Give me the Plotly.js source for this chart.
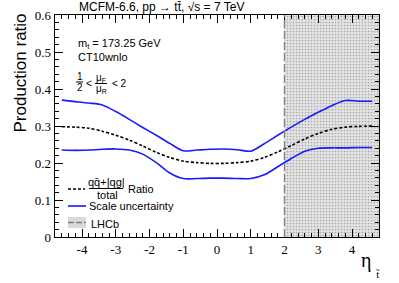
<!DOCTYPE html>
<html>
<head>
<meta charset="utf-8">
<script src="https://cdn.plot.ly/plotly-3.0.1.min.js"></script>
<style>
html,body{margin:0;padding:0;background:#fff;}
#chart{width:399px;height:283px;}
</style>
</head>
<body>
<div id="chart"></div>
<script>
// ---- data ----
const eta = [-4.6, -4.2, -3.8, -3.4, -3.0, -2.6, -2.2, -1.8, -1.4, -1.0, -0.6, -0.2,
             0.2, 0.6, 1.0, 1.4, 1.8, 2.2, 2.6, 3.0, 3.4, 3.8, 4.2, 4.6];
const ratio = [0.298, 0.297, 0.294, 0.286, 0.275, 0.262, 0.246, 0.229, 0.215, 0.205, 0.201, 0.199,
               0.199, 0.201, 0.205, 0.215, 0.230, 0.247, 0.265, 0.280, 0.291, 0.297, 0.299, 0.300];
const scaleUp = [0.370, 0.366, 0.362, 0.357, 0.339, 0.318, 0.296, 0.275, 0.253, 0.233, 0.235, 0.237,
                 0.238, 0.236, 0.232, 0.252, 0.275, 0.297, 0.318, 0.337, 0.355, 0.369, 0.367, 0.367];
const scaleDown = [0.235, 0.234, 0.235, 0.237, 0.238, 0.235, 0.224, 0.201, 0.173, 0.158, 0.158, 0.159,
                   0.159, 0.158, 0.158, 0.168, 0.190, 0.212, 0.232, 0.240, 0.241, 0.241, 0.242, 0.242];
const lhcbEta = [2, 4.8];
const yRange = [0, 0.6];
const xRange = [-4.8, 4.8];
const xTicks = [-4, -3, -2, -1, 0, 1, 2, 3, 4];
const xTickText = ['-4', '-3', '-2', '-1', '0', '1', '2', '3', '4'];
const yTicks = [0, 0.1, 0.2, 0.3, 0.4, 0.5, 0.6];
const yTickText = ['0', '0.1', '0.2', '0.3', '0.4', '0.5', '0.6'];

// ---- pixel -> paper helpers (plot area 55..379 x 15..237) ----
const L = 55, T = 15, W = 324, H = 222;
const px = x => (x - L) / W;
const py = y => (T + H - y) / H;

const sans = "'Liberation Sans', Arial, sans-serif";
const serif = "'Liberation Serif', 'Times New Roman', serif";

const traces = [
  { x: [lhcbEta[0], lhcbEta[1], lhcbEta[1], lhcbEta[0], lhcbEta[0]],
    y: [yRange[0], yRange[0], yRange[1], yRange[1], yRange[0]],
    mode: 'lines', fill: 'toself', line: {width: 0}, fillcolor: '#dedede',
    fillpattern: {shape: '.', fgcolor: '#a8a8a8', bgcolor: '#e4e4e4', size: 3, solidity: 0.25},
    hoverinfo: 'skip', showlegend: false },
  { x: eta, y: scaleUp, mode: 'lines', line: {color: '#1a1aff', width: 1.6, shape: 'spline', smoothing: 0.8}, showlegend: false },
  { x: eta, y: scaleDown, mode: 'lines', line: {color: '#1a1aff', width: 1.6, shape: 'spline', smoothing: 0.8}, showlegend: false },
  { x: eta, y: ratio, mode: 'lines', line: {color: '#000', width: 1.6, dash: '3px,2px', shape: 'spline', smoothing: 0.8}, showlegend: false }
];

const ann = (x, y, text, size, opts) => Object.assign({
  xref: 'paper', yref: 'paper', x: px(x), y: py(y), text: text, showarrow: false,
  xanchor: 'left', yanchor: 'middle', font: {family: sans, size: size, color: '#000'}
}, opts || {});

const annotations = [
  ann(161, 7, 'MCFM-6.6, pp \u2192 tt\u0304, \u221As = 7 TeV', 12, {xanchor: 'center'}),
  ann(20, 73.5, 'Production ratio', 17, {xanchor: 'center', textangle: -90}),
  ann(76, 44, 'm<sub>t</sub> = 173.25 GeV', 11),
  ann(76, 57, 'CT10wnlo', 11),
  ann(79.5, 76.5, '1', 10, {xanchor: 'center'}),
  ann(79.5, 87.5, '2', 10, {xanchor: 'center'}),
  ann(84, 83, '<', 10),
  ann(101, 78, '\u03BC<sub>F</sub>', 10, {xanchor: 'center'}),
  ann(101, 89, '\u03BC<sub>R</sub>', 10, {xanchor: 'center'}),
  ann(110, 83, '< 2', 10),
  ann(106, 182, 'qq\u0304+|qg|', 11, {xanchor: 'center'}),
  ann(107, 195, 'total', 11, {xanchor: 'center'}),
  ann(126, 188.5, 'Ratio', 11),
  ann(87, 206, 'Scale uncertainty', 11),
  ann(89, 223.5, 'LHCb', 11),
  ann(366, 260, '\u03B7', 20, {xanchor: 'center', font: {family: serif, size: 20, color: '#000'}}),
  ann(378, 274, 't\u0303', 11, {xanchor: 'center', font: {family: serif, size: 11, color: '#000'}})
];

const shapes = [
  {type: 'line', xref: 'x', yref: 'paper', x0: lhcbEta[0], x1: lhcbEta[0], y0: 0, y1: 1,
   line: {color: '#808080', width: 1.4, dash: '8px,3px'}},
  {type: 'line', xref: 'paper', yref: 'paper', x0: px(76), x1: px(83), y0: py(82), y1: py(82), line: {color: '#000', width: 1}},
  {type: 'line', xref: 'paper', yref: 'paper', x0: px(95), x1: px(107), y0: py(83.5), y1: py(83.5), line: {color: '#000', width: 1}},
  {type: 'line', xref: 'paper', yref: 'paper', x0: px(89), x1: px(123), y0: py(188.5), y1: py(188.5), line: {color: '#000', width: 1}},
  {type: 'line', xref: 'paper', yref: 'paper', x0: px(68), x1: px(85), y0: py(189), y1: py(189), line: {color: '#000', width: 1.5, dash: '3px,2px'}},
  {type: 'line', xref: 'paper', yref: 'paper', x0: px(68), x1: px(86), y0: py(206), y1: py(206), line: {color: '#1a1aff', width: 1.6}},
  {type: 'rect', xref: 'paper', yref: 'paper', x0: px(68), x1: px(86), y0: py(228), y1: py(217), fillcolor: '#d9d9d9', line: {width: 0}},
  {type: 'line', xref: 'paper', yref: 'paper', x0: px(68), x1: px(86), y0: py(222.5), y1: py(222.5), line: {color: '#808080', width: 1.4, dash: '6px,2px'}}
];

const axisCommon = {
  showgrid: false, zeroline: false, showline: true, linecolor: '#000', linewidth: 1.3,
  mirror: 'ticks', ticks: 'inside', ticklen: 8, tickcolor: '#000', tickwidth: 1,
  tickfont: {family: serif, size: 13, color: '#000'}, fixedrange: true
};

const layout = {
  width: 399, height: 283,
  margin: {l: L, r: 399 - L - W, t: T, b: 283 - T - H, pad: 0},
  paper_bgcolor: '#fff', plot_bgcolor: '#fff',
  showlegend: false,
  xaxis: Object.assign({}, axisCommon, {range: xRange, tickvals: xTicks, ticktext: xTickText,
    minor: {dtick: 0.2, tick0: 0, ticks: 'inside', ticklen: 4, tickcolor: '#000', tickwidth: 1}}),
  yaxis: Object.assign({}, axisCommon, {range: yRange, tickvals: yTicks, ticktext: yTickText,
    minor: {dtick: 0.02, tick0: 0, ticks: 'inside', ticklen: 4, tickcolor: '#000', tickwidth: 1}}),
  annotations: annotations,
  shapes: shapes
};

Plotly.newPlot('chart', traces, layout, {displayModeBar: false, staticPlot: true});
</script>
</body>
</html>
